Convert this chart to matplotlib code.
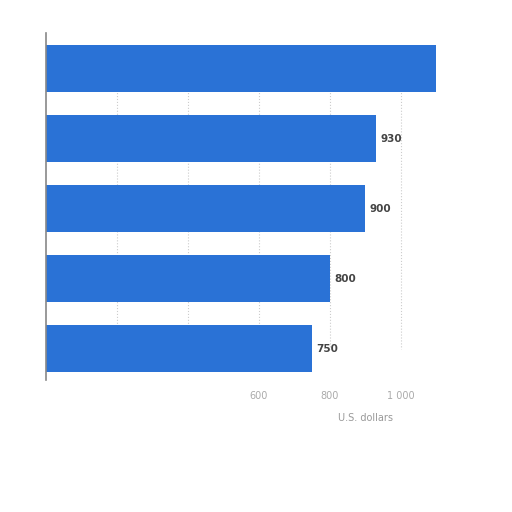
import matplotlib
matplotlib.use("Agg")
import matplotlib.pyplot as plt

categories = ["A", "B", "C", "D", "E"]
values = [1100, 930, 900, 800, 750]
labels = ["", "930", "900", "800", "750"]
ticks = [0, 200, 400, 600, 800, 1000]
tick_labels = ["", "", "", "600", "800", "1 000"]

fig = plt.figure(figsize=(5.12, 5.12), dpi=100)
ax = fig.add_axes([0.0898, 0.2578, 0.797, 0.678])

pos = list(range(len(categories)))
bars = ax.barh(pos, values, height=0.68, color="#2a72d6", zorder=2)
for b, lab in zip(bars, labels):
    if lab:
        ax.text(b.get_width() + 12, b.get_y() + b.get_height() / 2, lab,
                va="center", ha="left", fontsize=7.5, fontweight="bold", color="#444444")

# grid only between the bars
ax.vlines(ticks[1:], pos[0], pos[-1], colors="#cccccc", linestyles=":",
          linewidth=0.8, zorder=0)

ax.set_xlim(0, 1150)
ax.set_ylim(4.45, -0.51)
ax.set_xticks(ticks)
ax.set_xticklabels(tick_labels, fontsize=7, color="#aaaaaa")
ax.set_yticks([])
ax.tick_params(axis="x", length=0, pad=8)

for s in ["top", "right", "bottom"]:
    ax.spines[s].set_visible(False)
ax.spines["left"].set_color("#888888")
ax.spines["left"].set_linewidth(1.2)

ax.set_xlabel("U.S. dollars", fontsize=7, color="#999999", loc="right", labelpad=4)
ax.xaxis.set_label_coords(0.85, -0.095)

fig.savefig("out.png", dpi=100)
